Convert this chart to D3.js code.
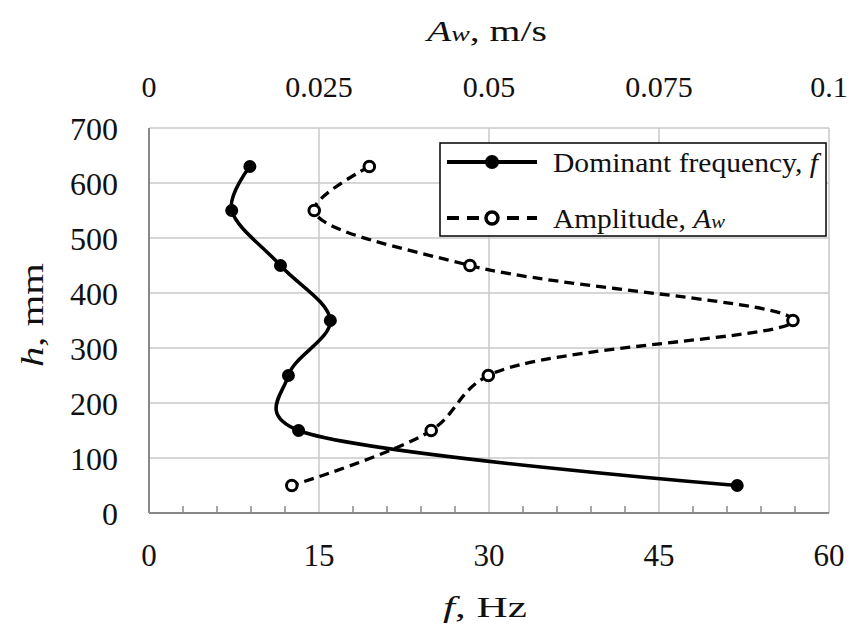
<!DOCTYPE html>
<html>
<head>
<meta charset="utf-8">
<script src="https://cdn.jsdelivr.net/npm/d3@7"></script>
<style>
  body { margin: 0; background: #fff; }
  text { font-family: "Liberation Serif", "Times New Roman", serif; fill: #111; }
</style>
</head>
<body>
<div id="chart"></div>
<script>
// heights (mm)
var heights = [630, 550, 450, 350, 250, 150, 50];
// dominant frequency f (Hz)
var freq = [8.9, 7.3, 11.6, 16.0, 12.3, 13.2, 51.9];
// amplitude Aw (m/s)
var ampl = [0.0324, 0.0243, 0.0472, 0.0947, 0.0499, 0.0415, 0.021];

var fTicks = [0, 15, 30, 45, 60];
var aTicks = [0, 0.025, 0.05, 0.075, 0.1];
var aTickLabels = ["0", "0.025", "0.05", "0.075", "0.1"];
var hTicks = [0, 100, 200, 300, 400, 500, 600, 700];
var minorTicks = d3.range(0, 61, 3);

var width = 851, height = 628;
var plotL = 149, plotR = 829, plotT = 128, plotB = 513;

var svg = d3.select("#chart")
  .append("svg")
    .attr("width", width)
    .attr("height", height);

var x = d3.scaleLinear().domain([0, 60]).range([plotL, plotR]);
var xA = d3.scaleLinear().domain([0, 0.1]).range([plotL, plotR]);
var y = d3.scaleLinear().domain([0, 700]).range([plotB, plotT]);

// grid
svg.append("g").selectAll("line")
  .data(hTicks.slice(1))
  .enter().append("line")
    .attr("x1", plotL).attr("x2", plotR)
    .attr("y1", function(d) {return y(d)})
    .attr("y2", function(d) {return y(d)})
    .attr("stroke", "#c8c8c8")
    .attr("stroke-width", 1.5);

svg.append("g").selectAll("line")
  .data(fTicks.slice(1))
  .enter().append("line")
    .attr("y1", plotT).attr("y2", plotB)
    .attr("x1", function(d) {return x(d)})
    .attr("x2", function(d) {return x(d)})
    .attr("stroke", "#c8c8c8")
    .attr("stroke-width", 1.5);

// minor ticks on bottom axis
svg.append("g").selectAll("line")
  .data(minorTicks.filter(function(d) {return d % 15 != 0}))
  .enter().append("line")
    .attr("x1", function(d) {return x(d)})
    .attr("x2", function(d) {return x(d)})
    .attr("y1", plotB).attr("y2", plotB - 7)
    .attr("stroke", "#888")
    .attr("stroke-width", 1.5);

// axis lines
svg.append("line")
  .attr("x1", plotL).attr("x2", plotL).attr("y1", plotT).attr("y2", plotB)
  .attr("stroke", "#888").attr("stroke-width", 2);
svg.append("line")
  .attr("x1", plotL).attr("x2", plotR).attr("y1", plotB).attr("y2", plotB)
  .attr("stroke", "#888").attr("stroke-width", 2);

// tick labels
svg.append("g").selectAll("text")
  .data(hTicks)
  .enter().append("text")
    .attr("x", 118)
    .attr("y", function(d) {return y(d) + 12})
    .attr("text-anchor", "end")
    .style("font-size", "32px")
    .text(function(d) {return d});

svg.append("g").selectAll("text")
  .data(fTicks)
  .enter().append("text")
    .attr("x", function(d) {return x(d)})
    .attr("y", 566)
    .attr("text-anchor", "middle")
    .style("font-size", "31px")
    .text(function(d) {return d});

svg.append("g").selectAll("text")
  .data(aTicks)
  .enter().append("text")
    .attr("x", function(d) {return xA(d)})
    .attr("y", 97)
    .attr("text-anchor", "middle")
    .style("font-size", "30px")
    .text(function(d, i) {return aTickLabels[i]});

// axis titles (stretched a bit wider like the original)
var t1 = svg.append("text")
  .attr("x", 427).attr("y", 41)
  .attr("textLength", 120)
  .attr("lengthAdjust", "spacingAndGlyphs")
  .style("font-size", "30px");
t1.append("tspan").style("font-style", "italic").text("A");
t1.append("tspan").style("font-style", "italic").style("font-size", "21px").text("w");
t1.append("tspan").text(", m/s");

var t2 = svg.append("text")
  .attr("x", 443).attr("y", 617)
  .attr("textLength", 84)
  .attr("lengthAdjust", "spacingAndGlyphs")
  .style("font-size", "30px");
t2.append("tspan").style("font-style", "italic").text("f");
t2.append("tspan").text(", Hz");

var t3 = svg.append("text")
  .attr("transform", "translate(43,367) rotate(-90)")
  .attr("textLength", 104)
  .attr("lengthAdjust", "spacingAndGlyphs")
  .style("font-size", "32px");
t3.append("tspan").style("font-style", "italic").text("h");
t3.append("tspan").text(", mm");

// smoothed lines
var fData = heights.map(function(h, i) {return {h: h, v: freq[i]}});
var aData = heights.map(function(h, i) {return {h: h, v: ampl[i]}});

var fLine = d3.line()
  .x(function(d) {return x(d.v)})
  .y(function(d) {return y(d.h)})
  .curve(d3.curveCatmullRom.alpha(0.2));

var aLine = d3.line()
  .x(function(d) {return xA(d.v)})
  .y(function(d) {return y(d.h)})
  .curve(d3.curveCatmullRom.alpha(0.5));

svg.append("path")
  .attr("d", aLine(aData))
  .attr("fill", "none")
  .attr("stroke", "#000")
  .attr("stroke-width", 3.3)
  .attr("stroke-dasharray", "10,6");

svg.append("path")
  .attr("d", fLine(fData))
  .attr("fill", "none")
  .attr("stroke", "#000")
  .attr("stroke-width", 3.5);

svg.append("g").selectAll("circle")
  .data(fData)
  .enter().append("circle")
    .attr("cx", function(d) {return x(d.v)})
    .attr("cy", function(d) {return y(d.h)})
    .attr("r", 6.5)
    .attr("fill", "#000");

svg.append("g").selectAll("circle")
  .data(aData)
  .enter().append("circle")
    .attr("cx", function(d) {return xA(d.v)})
    .attr("cy", function(d) {return y(d.h)})
    .attr("r", 5.3)
    .attr("fill", "#fff")
    .attr("stroke", "#000")
    .attr("stroke-width", 3);

// legend
var legend = svg.append("g");
legend.append("rect")
  .attr("x", 440).attr("y", 143)
  .attr("width", 386).attr("height", 93)
  .attr("fill", "#fff")
  .attr("stroke", "#000")
  .attr("stroke-width", 1.5);

legend.append("line")
  .attr("x1", 447).attr("x2", 537).attr("y1", 162).attr("y2", 162)
  .attr("stroke", "#000").attr("stroke-width", 4);
legend.append("circle")
  .attr("cx", 492).attr("cy", 162).attr("r", 7).attr("fill", "#000");

legend.append("line")
  .attr("x1", 447).attr("x2", 537).attr("y1", 218).attr("y2", 218)
  .attr("stroke", "#000").attr("stroke-width", 4)
  .attr("stroke-dasharray", "12,8");
legend.append("circle")
  .attr("cx", 492).attr("cy", 218).attr("r", 6)
  .attr("fill", "#fff").attr("stroke", "#000").attr("stroke-width", 3.5);

var l1 = legend.append("text")
  .attr("x", 553).attr("y", 172)
  .attr("textLength", 265)
  .attr("lengthAdjust", "spacingAndGlyphs")
  .style("font-size", "27px");
l1.append("tspan").text("Dominant frequency, ");
l1.append("tspan").style("font-style", "italic").text("f");

var l2 = legend.append("text")
  .attr("x", 553).attr("y", 228)
  .attr("textLength", 172)
  .attr("lengthAdjust", "spacingAndGlyphs")
  .style("font-size", "27px");
l2.append("tspan").text("Amplitude, ");
l2.append("tspan").style("font-style", "italic").text("A");
l2.append("tspan").style("font-style", "italic").style("font-size", "19px").text("w");
</script>
</body>
</html>
